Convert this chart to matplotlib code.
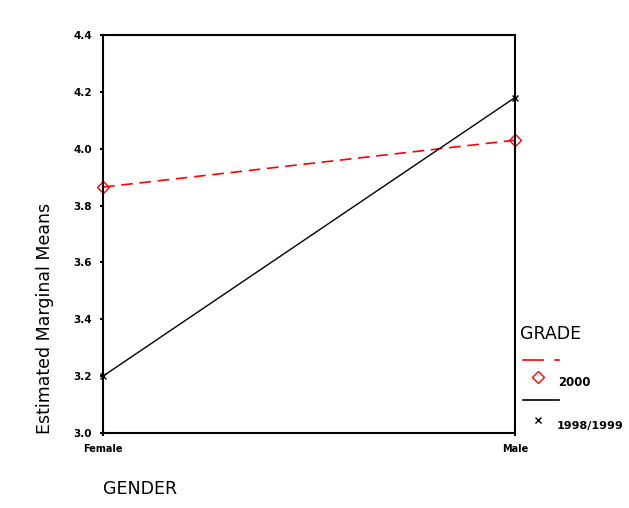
import matplotlib
matplotlib.use("Agg")
import matplotlib.pyplot as plt
from matplotlib.lines import Line2D

genders = ["Female", "Male"]
grade_2000 = [3.865, 4.03]
grade_9899 = [3.20, 4.18]
yticks = [3.0, 3.2, 3.4, 3.6, 3.8, 4.0, 4.2, 4.4]

W, H = 629, 508
fig = plt.figure(figsize=(W / 100, H / 100), dpi=100)
fig.patch.set_facecolor("white")

ax = fig.add_axes([103 / W, 1 - 433 / H, 412 / W, 398 / H])
x = [0, 1]
ax.plot(x, grade_2000, color="red", linestyle=(0, (7, 4)), linewidth=1.2,
        marker="D", markersize=6, markerfacecolor="none", markeredgecolor="red",
        clip_on=False)
ax.plot(x, grade_9899, color="black", linewidth=1.0,
        marker="x", markersize=5, markeredgecolor="black", clip_on=False)

ax.set_xlim(0, 1)
ax.set_ylim(3.0, 4.4)
ax.set_yticks(yticks)
ax.set_yticklabels(["%.1f" % t for t in yticks], fontsize=7.5, fontweight="bold")
ax.set_xticks(x)
ax.set_xticklabels(genders, fontsize=7, fontweight="bold")
ax.tick_params(axis="both", length=2, width=1.5, pad=6)
for s in ax.spines.values():
    s.set_linewidth(1.5)

fig.text(45 / W, 1 - 318 / H, "Estimated Marginal Means", rotation=90,
         ha="center", va="center", fontsize=12.5)
fig.text(103 / W, 1 - 489 / H, "GENDER", ha="left", va="center", fontsize=12.5)

# legend drawn by hand to the right of the plot
fig.text(520 / W, 1 - 334 / H, "GRADE", ha="left", va="center", fontsize=12.5)
fig.add_artist(Line2D([523 / W, 543 / W], [1 - 360 / H] * 2, color="red", lw=1.2,
                      transform=fig.transFigure))
fig.add_artist(Line2D([555 / W, 559 / W], [1 - 360 / H] * 2, color="red", lw=1.2,
                      transform=fig.transFigure))
fig.add_artist(Line2D([538 / W], [1 - 377 / H], marker="D", markersize=6,
                      markerfacecolor="none", markeredgecolor="red", linestyle="none",
                      transform=fig.transFigure))
fig.text(558 / W, 1 - 383 / H, "2000", ha="left", va="center", fontsize=8.5,
         fontweight="bold")
fig.add_artist(Line2D([523 / W, 559 / W], [1 - 400 / H] * 2, color="black", lw=1.2,
                      transform=fig.transFigure))
fig.add_artist(Line2D([538 / W], [1 - 420 / H], marker="x", markersize=5,
                      markeredgecolor="black", linestyle="none",
                      transform=fig.transFigure))
fig.text(557 / W, 1 - 426 / H, "1998/1999", ha="left", va="center", fontsize=8,
         fontweight="bold")

fig.savefig("out.png", dpi=100)
